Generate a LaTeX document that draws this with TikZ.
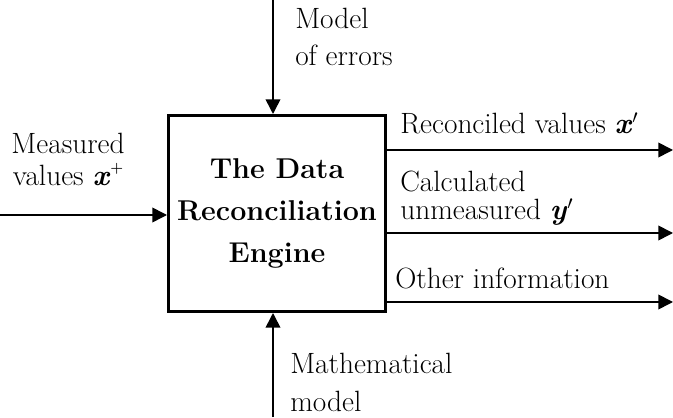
\documentclass[tikz,border=0pt]{standalone}
\usepackage{fontspec}
\usepackage{amsmath}
\usetikzlibrary{arrows.meta}

\begin{document}
\begin{tikzpicture}[x=0.75pt, y=0.75pt, yscale=1, xscale=1,
  flow/.style={-{Triangle[length=11pt,width=11pt]}, line width=1.2pt},
  lbl/.style={inner sep=0pt, font=\fontsize{22}{28}\selectfont}]
\useasboundingbox (0, 0) rectangle (673, 417);
\draw (277, 203.5) node (engine) [draw, line width=2.25pt, minimum width=162.75pt, minimum height=147pt][align=center, font=\fontsize{21.5}{31.5}\selectfont\bfseries]
  {The Data\\Reconciliation\\Engine};
\coordinate (errin) at (273, 417);
\coordinate (mathin) at (273, 0);
\coordinate (measin) at (0, 202);
\coordinate (outx) at (673, 267);
\coordinate (outy) at (673, 184);
\coordinate (outo) at (673, 115);
\draw [flow] (errin) -- (errin |- engine.north);
\draw [flow] (mathin) -- (mathin |- engine.south);
\draw [flow] (measin) -- (measin -| engine.west);
\draw [flow] (outx -| engine.east) -- (outx);
\draw [flow] (outy -| engine.east) -- (outy);
\draw [flow] (outo -| engine.east) -- (outo);
%Text
\draw (295, 409) node (errlbl) [lbl, anchor=north west][align=left] {Model\\of errors};
\draw (68, 284) node (measlbl) [lbl, anchor=north][align=center, font=\fontsize{22}{24}\selectfont] {Measured\\values \textbf{\textit{x}}\raisebox{0.45em}{\fontsize{11}{11}\selectfont\textbf{+}}};
\draw (400, 304) node (xlbl) [lbl, anchor=north west][align=left] {Reconciled values \textbf{\textit{x}}$'$};
\draw (400, 246) node (ylbl) [lbl, anchor=north west][align=left, font=\fontsize{22}{21}\selectfont] {Calculated\\unmeasured \textbf{\textit{y}}$'$};
\draw (395, 149) node (othlbl) [lbl, anchor=north west][align=left] {Other information};
\draw (290, 64) node (mathlbl) [lbl, anchor=north west][align=left, font=\fontsize{22}{28.5}\selectfont] {Mathematical\\model};
\end{tikzpicture}
\end{document}
